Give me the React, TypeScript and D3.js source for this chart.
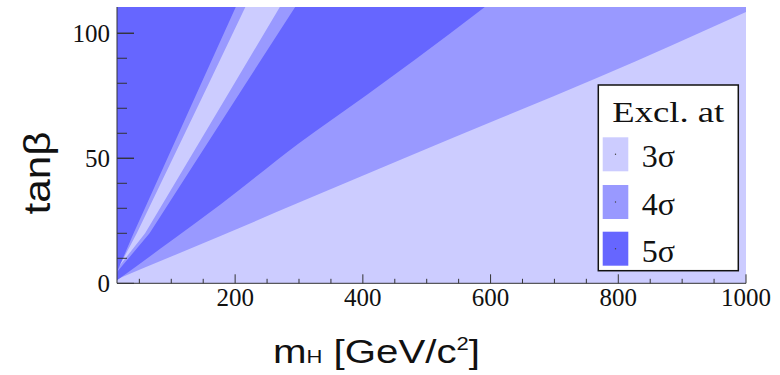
import * as d3 from "d3";

const W = 780;
const H = 375;

const fillColours = ["#ccccff", "#9999ff", "#6666ff"];
const legendLabels = ["3σ", "4σ", "5σ"];

// contour edges, as [mH, tanβ]
const edge3to4: [number, number][] = [
  [15, 1.6], [100, 10.7], [177, 18.9], [300, 32.3], [460, 49.5],
  [615, 66], [770, 82.5], [1000, 108.5],
];
const edge4to5: [number, number][] = [
  [15, 1.2], [100, 17], [177, 31.5], [300, 56], [406, 75.3], [481, 89.3], [591, 110.5],
];
// the narrow wedge at low mH
const wedgeOuterLeft: [number, number][] = [[15, 4.5], [41, 20], [147, 80], [201, 110.5]];
const wedgeInnerLeft: [number, number][] = [[19, 7], [46, 20], [159, 80], [216, 110.5]];
const wedgeInnerRight: [number, number][] = [[19, 7], [59, 20], [199, 80], [270, 110.5]];
const wedgeOuterRight: [number, number][] = [[15, 4.5], [66, 20], [217, 80], [294, 110.5]];

const xMajor = [200, 400, 600, 800, 1000];
const xMinor = d3.range(50, 1001, 50);
const yMajor = [0, 50, 100];
const yMinor = d3.range(10, 110, 10);

const M_MIN = 15;
const M_MAX = 1000;
const TB_MAX = 110.5;

export default function App() {
  const x = d3.scaleLinear().domain([M_MIN, M_MAX]).range([117, 746]);
  const y = d3.scaleLinear().domain([0, TB_MAX]).range([283.3, 7]);

  const smooth = d3
    .line<[number, number]>()
    .x((d) => x(d[0]))
    .y((d) => y(d[1]))
    .curve(d3.curveMonotoneX);
  const straight = d3
    .line<[number, number]>()
    .x((d) => x(d[0]))
    .y((d) => y(d[1]));

  // region above an edge, up to the top of the frame
  const above = (pts: [number, number][]) => {
    const last = pts[pts.length - 1];
    return `${smooth(pts)}L${x(last[0])},${y(TB_MAX)}L${x(M_MIN)},${y(TB_MAX)}Z`;
  };
  // region between two edges that meet at the bottom
  const between = (a: [number, number][], b: [number, number][]) =>
    straight([...a, ...b.slice().reverse()]) + "Z";

  const serif = "'Liberation Serif', 'Times New Roman', serif";
  const sans = "'Liberation Sans', Arial, sans-serif";

  const lg = { x: 598.3, y: 85, w: 140, h: 185.7 };
  const swatchY = [137.3, 185, 231.7];

  return (
    <svg
      width={W}
      height={H}
      style={{ position: "absolute", left: 0, top: 0, background: "#fff" }}
    >
      <rect x={x(M_MIN)} y={y(TB_MAX)} width={x(M_MAX) - x(M_MIN)} height={y(0) - y(TB_MAX)} fill={fillColours[0]} />
      <path d={above(edge3to4)} fill={fillColours[1]} />
      <path d={above(edge4to5)} fill={fillColours[2]} />
      <path d={between(wedgeOuterLeft, wedgeOuterRight)} fill={fillColours[1]} />
      <path d={between(wedgeInnerLeft, wedgeInnerRight)} fill={fillColours[0]} />

      {/* axes */}
      <line x1={x(M_MIN)} x2={x(M_MAX)} y1={y(0)} y2={y(0)} stroke="#333" strokeWidth={1} />
      <line x1={x(M_MIN)} x2={x(M_MIN)} y1={y(0)} y2={y(TB_MAX)} stroke="#333" strokeWidth={1} />
      {xMinor.map((m) => (
        <line key={"xm" + m} x1={x(m)} x2={x(m)} y1={y(0)} y2={y(0) - (xMajor.includes(m) ? 9 : 4.5)} stroke="#333" />
      ))}
      {yMinor.concat(yMajor).map((t) => (
        <line key={"ym" + t} x1={x(M_MIN)} x2={x(M_MIN) + (yMajor.includes(t) ? 17 : 10)} y1={y(t)} y2={y(t)} stroke="#333" />
      ))}
      {xMajor.map((m) => (
        <text key={"xl" + m} x={x(m)} y={306} textAnchor="middle" fontFamily={serif} fontSize={25} fill="#111">
          {m}
        </text>
      ))}
      {yMajor.map((t) => (
        <text key={"yl" + t} x={110} y={y(t)} dy="0.35em" textAnchor="end" fontFamily={serif} fontSize={25} fill="#111">
          {t}
        </text>
      ))}

      {/* axis titles */}
      <text x={273} y={363} fontFamily={sans} fontSize={33} fill="#111" textLength={207} lengthAdjust="spacingAndGlyphs">
        m<tspan fontSize={18}>H</tspan> [GeV/c<tspan fontSize={18} dy={-13}>2</tspan><tspan dy={13}>]</tspan>
      </text>
      <text
        transform="translate(50,173) rotate(-90)"
        textAnchor="middle"
        fontFamily={sans}
        fontSize={37}
        fill="#111"
        textLength={83}
        lengthAdjust="spacingAndGlyphs"
      >
        tanβ
      </text>

      {/* legend */}
      <rect x={lg.x} y={lg.y} width={lg.w} height={lg.h} fill="#fff" stroke="#111" strokeWidth={1.5} />
      <text x={lg.x + lg.w / 2} y={121.7} textAnchor="middle" fontFamily={serif} fontSize={30} fill="#111" textLength={112} lengthAdjust="spacingAndGlyphs">
        Excl. at
      </text>
      {legendLabels.map((lab, i) => (
        <g key={lab}>
          <rect x={602.7} y={swatchY[i]} width={25.6} height={34} fill={fillColours[i]} />
          <circle cx={615.5} cy={swatchY[i] + 17} r={0.7} fill="#444" />
          <text x={641.7} y={swatchY[i] + 30} fontFamily={serif} fontSize={32} fill="#111">
            {lab}
          </text>
        </g>
      ))}
    </svg>
  );
}
